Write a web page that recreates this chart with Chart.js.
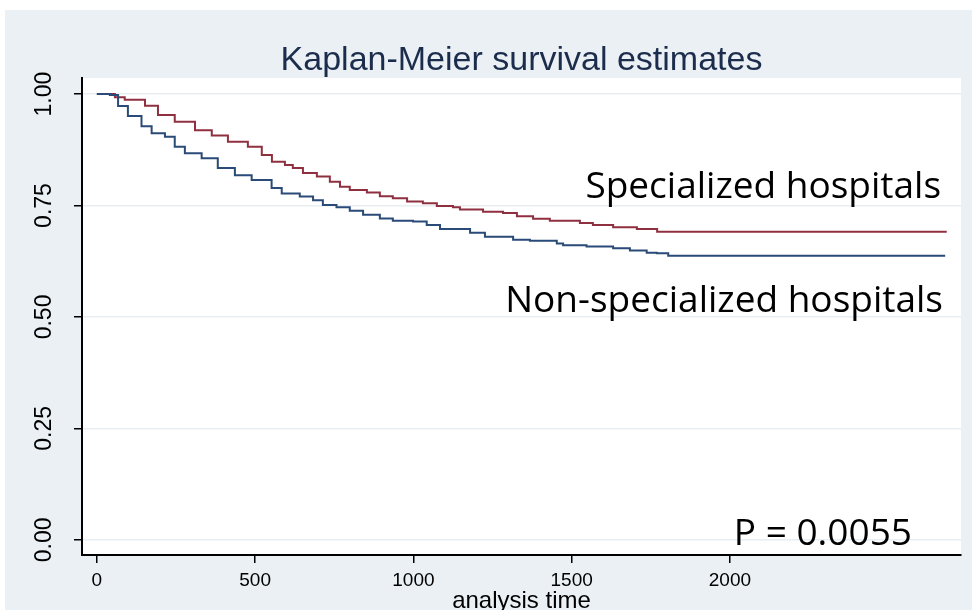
<!DOCTYPE html>
<html>
<head>
<meta charset="utf-8">
<script src="https://cdn.jsdelivr.net/npm/chart.js@4"></script>
<style>
  html, body { margin: 0; padding: 0; background: #fff; }
  #wrap { width: 972px; height: 610px; }
</style>
</head>
<body>
<div id="wrap"><canvas id="kmChart" width="972" height="610"></canvas></div>
<script>
// Kaplan-Meier estimates (time, survival)
const timesSpecialized = [0, 57, 88, 152, 193, 246, 310, 363, 414, 477, 521, 553, 594, 619, 651, 695, 736, 768, 799, 853, 894, 935, 980, 1030, 1074, 1125, 1147, 1220, 1283, 1327, 1378, 1431, 1526, 1567, 1631, 1706, 1770, 2685];
const survivalSpecialized = [1, 0.993, 0.987, 0.974, 0.953, 0.938, 0.919, 0.907, 0.893, 0.882, 0.863, 0.848, 0.841, 0.834, 0.823, 0.815, 0.803, 0.792, 0.785, 0.779, 0.771, 0.766, 0.759, 0.755, 0.749, 0.746, 0.741, 0.736, 0.733, 0.726, 0.720, 0.716, 0.711, 0.706, 0.701, 0.697, 0.691, 0.691];

const timesNonSpecialized = [0, 41, 67, 98, 141, 173, 215, 246, 278, 331, 382, 436, 489, 552, 584, 641, 683, 714, 757, 799, 841, 894, 935, 999, 1042, 1084, 1179, 1226, 1315, 1368, 1453, 1473, 1547, 1631, 1684, 1737, 1769, 1805, 2680];
const survivalNonSpecialized = [1, 0.998, 0.973, 0.951, 0.928, 0.912, 0.904, 0.882, 0.867, 0.856, 0.834, 0.818, 0.807, 0.789, 0.777, 0.770, 0.762, 0.751, 0.746, 0.738, 0.729, 0.721, 0.716, 0.714, 0.706, 0.697, 0.689, 0.680, 0.673, 0.671, 0.665, 0.661, 0.658, 0.654, 0.649, 0.644, 0.643, 0.637, 0.637];

const xTicks = [0, 500, 1000, 1500, 2000];
const yTicks = [0, 0.25, 0.5, 0.75, 1];

const titleText = 'Kaplan-Meier survival estimates';
const xTitle = 'analysis time';
// text labels placed in data units: [text, time, survival]
const labels = [
  ['Specialized hospitals', 2667, 0.767],
  ['Non-specialized hospitals', 2673, 0.511],
  ['P = 0.0055', 2575, -0.011]
];

function toPoints(xs, ys) {
  return xs.map((x, i) => ({ x: x, y: ys[i] }));
}

const bgPlugin = {
  id: 'stataBackground',
  beforeDraw(chart) {
    const c = chart.ctx, a = chart.chartArea;
    c.save();
    c.fillStyle = '#ffffff';
    c.fillRect(0, 0, chart.width, chart.height);
    c.fillStyle = '#eaf0f3';
    c.fillRect(5, 10, chart.width - 5, chart.height - 10);
    c.fillStyle = '#ffffff';
    c.fillRect(a.left, a.top, a.right - a.left, a.bottom - a.top);
    c.restore();
  },
  afterDraw(chart) {
    const c = chart.ctx, a = chart.chartArea;
    const xs = chart.scales.x, ys = chart.scales.y;
    c.save();
    // title
    c.fillStyle = '#1c2c4c';
    c.font = '34px "Liberation Sans", Arial, sans-serif';
    c.textAlign = 'center';
    c.textBaseline = 'alphabetic';
    c.fillText(titleText, (a.left + a.right) / 2, 70);

    // rotated y tick labels
    c.fillStyle = '#000';
    c.font = '23px "Liberation Sans", Arial, sans-serif';
    c.textBaseline = 'middle';
    yTicks.forEach(v => {
      c.save();
      c.translate(45, ys.getPixelForValue(v));
      c.rotate(-Math.PI / 2);
      c.fillText(v.toFixed(2), 0, 0);
      c.restore();
    });

    // curve labels and p-value
    c.font = '37px "Open Sans", "Noto Sans", sans-serif';
    c.textAlign = 'right';
    c.textBaseline = 'alphabetic';
    labels.forEach(l => {
      c.fillText(l[0], xs.getPixelForValue(l[1]), ys.getPixelForValue(l[2]));
    });
    c.restore();
  }
};

const ctx = document.getElementById('kmChart').getContext('2d');
const kmChart = new Chart(ctx, {
  type: 'line',
  data: {
    datasets: [{
      label: 'Non-specialized hospitals',
      data: toPoints(timesNonSpecialized, survivalNonSpecialized),
      borderColor: '#2a4a78',
      borderWidth: 2,
      pointRadius: 0,
      stepped: 'before',
      fill: false
    }, {
      label: 'Specialized hospitals',
      data: toPoints(timesSpecialized, survivalSpecialized),
      borderColor: '#8e3040',
      borderWidth: 2,
      pointRadius: 0,
      stepped: 'before',
      fill: false
    }]
  },
  options: {
    responsive: false,
    animation: false,
    layout: { padding: { left: 0, right: 11, top: 78, bottom: 0 } },
    plugins: {
      legend: { display: false },
      tooltip: { enabled: false }
    },
    scales: {
      x: {
        type: 'linear',
        min: -47,
        max: 2730,
        afterBuildTicks: s => { s.ticks = xTicks.map(v => ({ value: v })); },
        afterFit: s => { s.height = 55; },
        grid: { drawOnChartArea: false, tickColor: '#000', tickLength: 8, lineWidth: 1.5 },
        border: { color: '#000', width: 2 },
        ticks: {
          color: '#000',
          padding: 6,
          maxRotation: 0,
          callback: v => String(v),
          font: { family: '"Liberation Sans", Arial, sans-serif', size: 19 }
        },
        title: {
          display: true,
          text: xTitle,
          color: '#000',
          padding: 0,
          font: { family: '"Liberation Sans", Arial, sans-serif', size: 24, lineHeight: 0.75 }
        }
      },
      y: {
        type: 'linear',
        min: -0.034,
        max: 1.036,
        afterBuildTicks: s => { s.ticks = yTicks.map(v => ({ value: v })); },
        afterFit: s => { s.width = 82; },
        grid: { color: '#e8eef1', tickColor: '#000', tickLength: 8, lineWidth: 1.5 },
        border: { color: '#000', width: 2 },
        ticks: { display: false }
      }
    }
  },
  plugins: [bgPlugin]
});
</script>
</body>
</html>
